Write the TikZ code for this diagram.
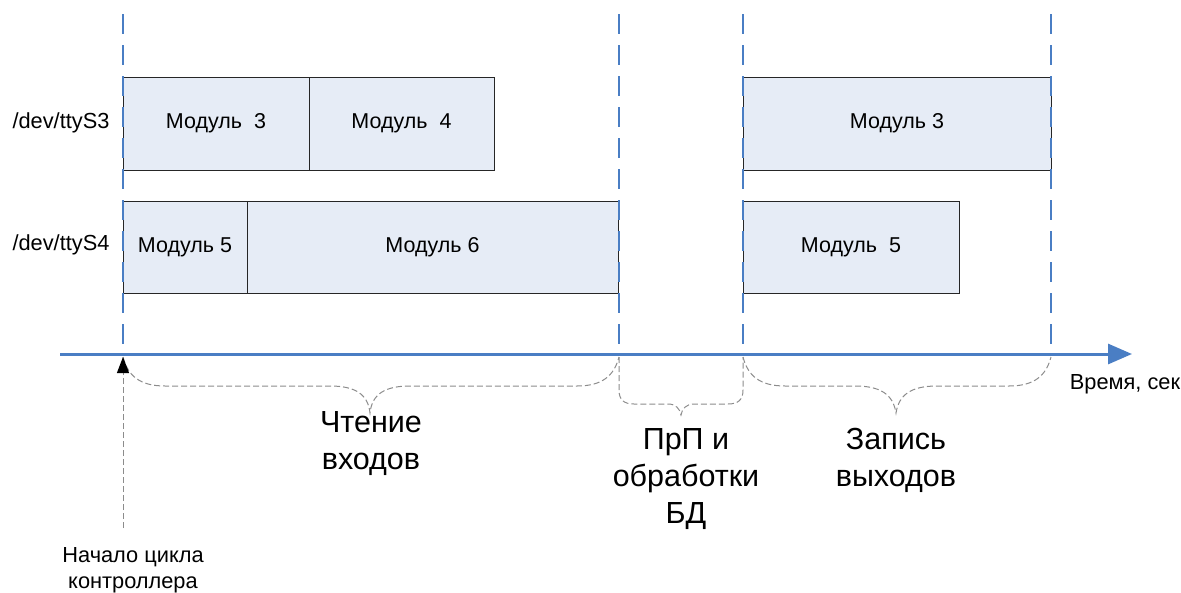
\documentclass[tikz,border=0pt]{standalone}
\usepackage{fontspec}
\setmainfont{Liberation Sans}
\usetikzlibrary{arrows.meta}
\definecolor{axisblue}{HTML}{4A7EC4}
\definecolor{boxfill}{HTML}{E6ECF6}
\definecolor{bracegray}{HTML}{8C8C8C}
\begin{document}
\begin{tikzpicture}[x=1pt,y=-1pt,
  modbox/.style={draw=black!85,line width=1pt,fill=boxfill,inner sep=0pt,outer sep=0pt,
    font=\fontsize{21.5}{25}\selectfont},
  guide/.style={draw=axisblue,line width=2.6pt,dash pattern=on 20pt off 11pt},
  bracepath/.style={draw=bracegray,line width=1pt,dash pattern=on 6pt off 3pt},
  small/.style={font=\fontsize{21.8}{26}\selectfont,align=center,inner sep=0pt},
  big/.style={font=\fontsize{30.5}{37}\selectfont,align=center,inner sep=0pt}]
\useasboundingbox (0,0) rectangle (1181,592);

% boxes
\node[modbox,minimum width=186pt,minimum height=93pt] (m3a) at (216,123.5) {Модуль\ \ 3};
\node[modbox,minimum width=185pt,minimum height=93pt] (m4a) at (401.5,123.5) {Модуль\ \ 4};
\node[modbox,minimum width=308pt,minimum height=93pt] (m3b) at (897,123.5) {Модуль 3};
\node[modbox,minimum width=124pt,minimum height=92pt] (m5a) at (185,247) {Модуль 5};
\node[modbox,minimum width=371pt,minimum height=92pt] (m6a) at (432.5,247) {Модуль 6};
\node[modbox,minimum width=216pt,minimum height=92pt] (m5b) at (851,247) {Модуль\ \ 5};

% port labels
\node[small] (s3) at (61,123) {/dev/ttyS3};
\node[small] (s4) at (61,245) {/dev/ttyS4};

% guide coordinates
\coordinate (g1t) at (123,14);  \coordinate (g1b) at (123,354);
\coordinate (g2t) at (619,14);  \coordinate (g2b) at (619,354);
\coordinate (g3t) at (743,14);  \coordinate (g3b) at (743,354);
\coordinate (g4t) at (1051,14); \coordinate (g4b) at (1051,354);
\draw[guide] (g1t) -- (g1b);
\draw[guide] (g2t) -- (g2b);
\draw[guide] (g3t) -- (g3b);
\draw[guide] (g4t) -- (g4b);

% axis
\coordinate (ax0) at (60,354);
\coordinate (ax1) at (1132,354);
\draw[axisblue,line width=3pt,-{Triangle[length=24pt,width=20pt]}] (ax0) -- (ax1);
\node[small,anchor=center] (time) at (1125,384) {Время, сек};

% braces
\draw[bracepath] (123,357) .. controls (128,376) and (140,386) .. (165,386)
  -- (330,386) .. controls (355,386) and (368,394) .. (370,413)
  .. controls (372,394) and (385,386) .. (410,386)
  -- (577,386) .. controls (602,386) and (614,376) .. (619,357);
\draw[bracepath] (619,357) -- (619,390) .. controls (619,400) and (624,404) .. (634,404)
  -- (668,404) .. controls (676,404) and (680,409) .. (681,415)
  .. controls (682,409) and (686,404) .. (694,404)
  -- (728,404) .. controls (738,404) and (743,400) .. (743,390) -- (743,357);
\draw[bracepath] (743,357) .. controls (748,376) and (760,386) .. (785,386)
  -- (855,386) .. controls (880,386) and (893,394) .. (896,413)
  .. controls (899,394) and (912,386) .. (937,386)
  -- (1009,386) .. controls (1034,386) and (1046,376) .. (1051,357);

% phase labels
\node[big] (read) at (371,444) {Чтение\\входов};
\node[big] (proc) at (686,479) {ПрП и\\обработки\\БД};
\node[big] (write) at (896,460) {Запись\\выходов};

% start marker
\node[small] (start) at (133,570) {Начало цикла\\контроллера};
\coordinate (st0) at (123,528);
\coordinate (st1) at (123,357);
\draw[bracepath,-{Triangle[length=16pt,width=12pt,color=black,fill=black]}] (st0) -- (st1);
\end{tikzpicture}
\end{document}
